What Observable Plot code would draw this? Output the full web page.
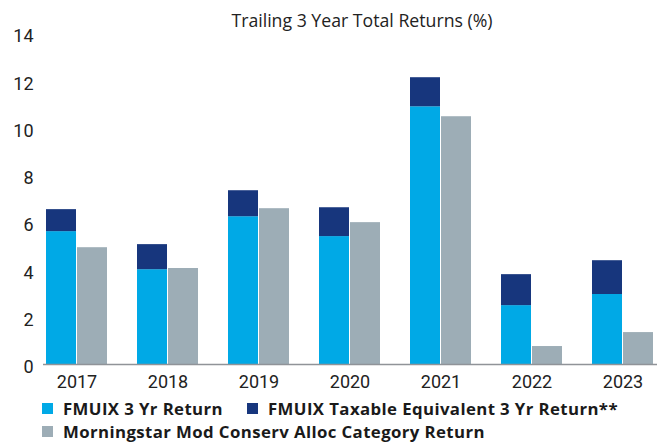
<!DOCTYPE html>
<html>
<head>
<meta charset="utf-8">
<script src="https://cdn.jsdelivr.net/npm/d3@7"></script>
<script src="https://cdn.jsdelivr.net/npm/@observablehq/plot@0.6"></script>
<style>
  body { margin: 0; background: #fff; }
  #wrap { width: 662px; height: 443px; position: relative; overflow: hidden; font-family: Roboto, sans-serif; }
  #sub { position: absolute; top: 7px; left: 0; width: 724px; text-align: center; font-family: "Open Sans", sans-serif; font-size: 17.7px; line-height: 26px; color: #222; font-weight: 400; }
  #chart { position: absolute; top: 26px; left: 0; }
  #legend { position: absolute; top: 397px; left: 0; width: 662px; font-family: "Open Sans", sans-serif; font-weight: 700; font-size: 16.8px; letter-spacing: 0.4px; color: #1a1a1a; }
  .row { height: 23px; display: flex; align-items: center; }
  .sw { display: inline-block; width: 11px; height: 11px; margin-right: 10px; }
  .lt { display: inline-block; height: 23px; line-height: 23px; white-space: nowrap; }
</style>
</head>
<body>
<div id="wrap">
  <div id="sub">Trailing 3 Year Total Returns (%)</div>
  <div id="chart"></div>
  <div id="legend"></div>
</div>
<script>
const years = ["2017", "2018", "2019", "2020", "2021", "2022", "2023"];
const fmuixReturn = [5.62, 4.01, 6.25, 5.41, 10.9, 2.49, 2.96];
const taxableEquivalent = [6.55, 5.07, 7.35, 6.63, 12.13, 3.80, 4.39];
const categoryReturn = [4.94, 4.06, 6.59, 6.00, 10.48, 0.76, 1.35];
const yTicks = [0, 2, 4, 6, 8, 10, 12, 14];
const seriesNames = ["FMUIX 3 Yr Return", "FMUIX Taxable Equivalent 3 Yr Return**", "Morningstar Mod Conserv Alloc Category Return"];
const seriesColors = ["#00a9e6", "#17367d", "#9dadb6"];

const data = years.map((year, i) => ({
  year,
  ret: fmuixReturn[i],
  tax: taxableEquivalent[i],
  cat: categoryReturn[i]
}));

const chart = Plot.plot({
  width: 662,
  height: 370,
  marginTop: 7,
  marginLeft: 43,
  marginRight: 5,
  marginBottom: 32,
  style: { fontFamily: "Roboto, sans-serif", fontSize: "18px", color: "#222", overflow: "visible", background: "transparent" },
  x: { domain: years, paddingInner: 0.326, paddingOuter: 0, label: null, tickSize: 0, tickPadding: 11 },
  y: { domain: [0, 14], label: null },
  marks: [
    Plot.axisY(yTicks, { tickSize: 0, tickPadding: 10, dy: 3, label: null }),
    Plot.barY(data, { x: "year", y: "ret", fill: seriesColors[0], insetRight: 31 }),
    Plot.barY(data, { x: "year", y1: "ret", y2: "tax", fill: seriesColors[1], insetRight: 31 }),
    Plot.barY(data, { x: "year", y: "cat", fill: seriesColors[2], insetLeft: 31 }),
    Plot.ruleY([0], { stroke: "#909398", strokeWidth: 1.5 })
  ]
});
document.getElementById("chart").appendChild(chart);

const legend = document.getElementById("legend");
const rows = [[0, 1], [2]];
rows.forEach(r => {
  const row = document.createElement("div");
  row.className = "row";
  r.forEach((k, j) => {
    const sw = document.createElement("span");
    sw.className = "sw";
    sw.style.background = seriesColors[k];
    sw.style.marginLeft = j === 0 ? "42px" : "24px";
    const t = document.createElement("span");
    t.className = "lt";
    t.textContent = seriesNames[k];
    row.appendChild(sw);
    row.appendChild(t);
  });
  legend.appendChild(row);
});
</script>
</body>
</html>
